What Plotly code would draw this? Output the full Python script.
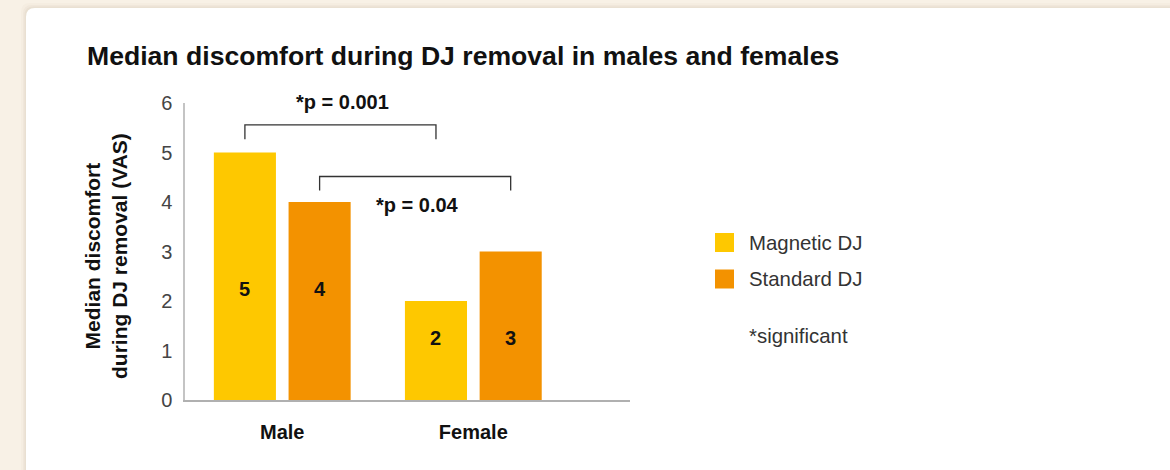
import plotly.graph_objects as go

# data
groups = ["Male", "Female"]
series_names = ["Magnetic DJ", "Standard DJ"]
magnetic = [5, 2]
standard = [4, 3]
colors = ["#FEC800", "#F39200"]
y_ticks = [0, 1, 2, 3, 4, 5, 6]
p_labels = ["*p = 0.001", "*p = 0.04"]
note = "*significant"

FONT = "Liberation Sans, Arial, Helvetica, sans-serif"
BARGAP = 0.218
OFF = (1 - BARGAP) / 4  # centre offset of each bar inside its group
YMAX = 6

fig = go.Figure()
for name, vals, col in zip(series_names, [magnetic, standard], colors):
    fig.add_trace(go.Bar(
        x=groups, y=vals, name=name,
        marker=dict(color=col, line=dict(width=0)),
        showlegend=False, hoverinfo="x+y+name",
    ))

# value labels, sat at the middle of each group's bar centres
anns = []
for i, g in enumerate(groups):
    ly = (magnetic[i] + standard[i]) / 4
    for vals, dx in [(magnetic, -OFF), (standard, OFF)]:
        anns.append(dict(x=i + dx, y=ly, xref="x", yref="y", text=str(vals[i]),
                         showarrow=False, xanchor="center", yanchor="middle",
                         font=dict(family=FONT, size=20, color="#111", weight=700)))

# significance brackets: magnetic male->female and standard male->female
shapes = []
brackets = [(-OFF, 1 - OFF, 5.56, 5.27, 6.02, p_labels[0]),
            (OFF, 1 + OFF, 4.515, 4.23, 3.93, p_labels[1])]
for x0, x1, ytop, yleg, ytxt, lab in brackets:
    shapes.append(dict(type="path", xref="x", yref="y",
                       path=f"M {x0},{yleg} L {x0},{ytop} L {x1},{ytop} L {x1},{yleg}",
                       line=dict(color="#333", width=1.3)))
    anns.append(dict(x=(x0 + x1) / 2 + 0.01, y=ytxt / YMAX, xref="x", yref="paper", text=lab,
                     showarrow=False, xanchor="center", yanchor="middle",
                     font=dict(family=FONT, size=20, color="#111", weight=700)))

# card background with rounded top-left corner and soft shadow
L, T = 185, 103
W, H = 445.0, 297.0
cx0, cy0 = (26 - L) / W, (T + H - 8) / H
cx1, cy1 = (1190 - L) / W, (T + H - 490) / H
rx, ry = 9 / W, 9 / H
for k, a in [(5, 0.025), (3, 0.035), (1.5, 0.05)]:
    dx, dy = k / W, k / H
    shapes.append(dict(type="path", xref="paper", yref="paper", layer="below",
                       path=f"M {cx0-dx},{cy1} L {cx0-dx},{cy0-ry+dy} Q {cx0-dx},{cy0+dy} {cx0+rx-dx},{cy0+dy} L {cx1},{cy0+dy} L {cx1},{cy1} Z",
                       fillcolor=f"rgba(120,90,50,{a})", line=dict(width=0)))
shapes.append(dict(type="path", xref="paper", yref="paper", layer="below",
                   path=f"M {cx0},{cy1} L {cx0},{cy0-ry} Q {cx0},{cy0} {cx0+rx},{cy0} L {cx1},{cy0} L {cx1},{cy1} Z",
                   fillcolor="white", line=dict(width=0)))

# hand-drawn legend
leg_y = [(T + H - 242.5) / H, (T + H - 279) / H]
for name, col, yy in zip(series_names, colors, leg_y):
    shapes.append(dict(type="rect", xref="paper", yref="paper",
                       x0=(715 - L) / W, x1=(734 - L) / W, y0=yy - 9.5 / H, y1=yy + 9.5 / H,
                       fillcolor=col, line=dict(width=0)))
    anns.append(dict(x=(747 - L) / W, y=yy, xref="paper", yref="paper",
                     xanchor="left", yanchor="middle",
                     text=name, showarrow=False, font=dict(family=FONT, size=20.4, color="#333")))
anns.append(dict(x=(747 - L) / W, y=(T + H - 336) / H, xref="paper", yref="paper",
                 xanchor="left", yanchor="middle",
                 text=note, showarrow=False, font=dict(family=FONT, size=20.4, color="#333")))

# y axis title
anns.append(dict(x=(106 - L) / W, y=(T + H - 256) / H, xref="paper", yref="paper",
                 xanchor="center", yanchor="middle",
                 text="Median discomfort<br>during DJ removal (VAS)", textangle=-90, showarrow=False,
                 font=dict(family=FONT, size=21, color="#111", weight=700)))

fig.update_layout(
    width=1170, height=470,
    margin=dict(l=L, r=1170 - L - int(W), t=T, b=470 - T - int(H)),
    paper_bgcolor="#f8f1e6",
    plot_bgcolor="rgba(0,0,0,0)",
    barmode="group", bargap=BARGAP, bargroupgap=0.169,
    title=dict(text="Median discomfort during DJ removal in males and females",
               x=87 / 1170, xref="container", xanchor="left",
               y=1 - 56 / 470, yref="container", yanchor="middle",
               font=dict(family=FONT, size=26.6, color="#111", weight=700)),
    xaxis=dict(range=[-0.509, 1.82], showgrid=False, zeroline=False,
               showline=True, linecolor="#b0b0b0", linewidth=1.5, ticks="",
               ticklabelstandoff=13,
               tickfont=dict(family=FONT, size=20, color="#111", weight=700)),
    yaxis=dict(range=[0, YMAX], tickvals=y_ticks, showgrid=False, zeroline=False,
               showline=True, linecolor="#c4c4c4", linewidth=1.5, ticks="",
               ticklabelstandoff=7,
               tickfont=dict(family=FONT, size=20, color="#444")),
    shapes=shapes, annotations=anns,
    showlegend=False,
)

fig.write_html("out.html", config={"displayModeBar": False},
               post_script="document.body.style.margin='0';")
